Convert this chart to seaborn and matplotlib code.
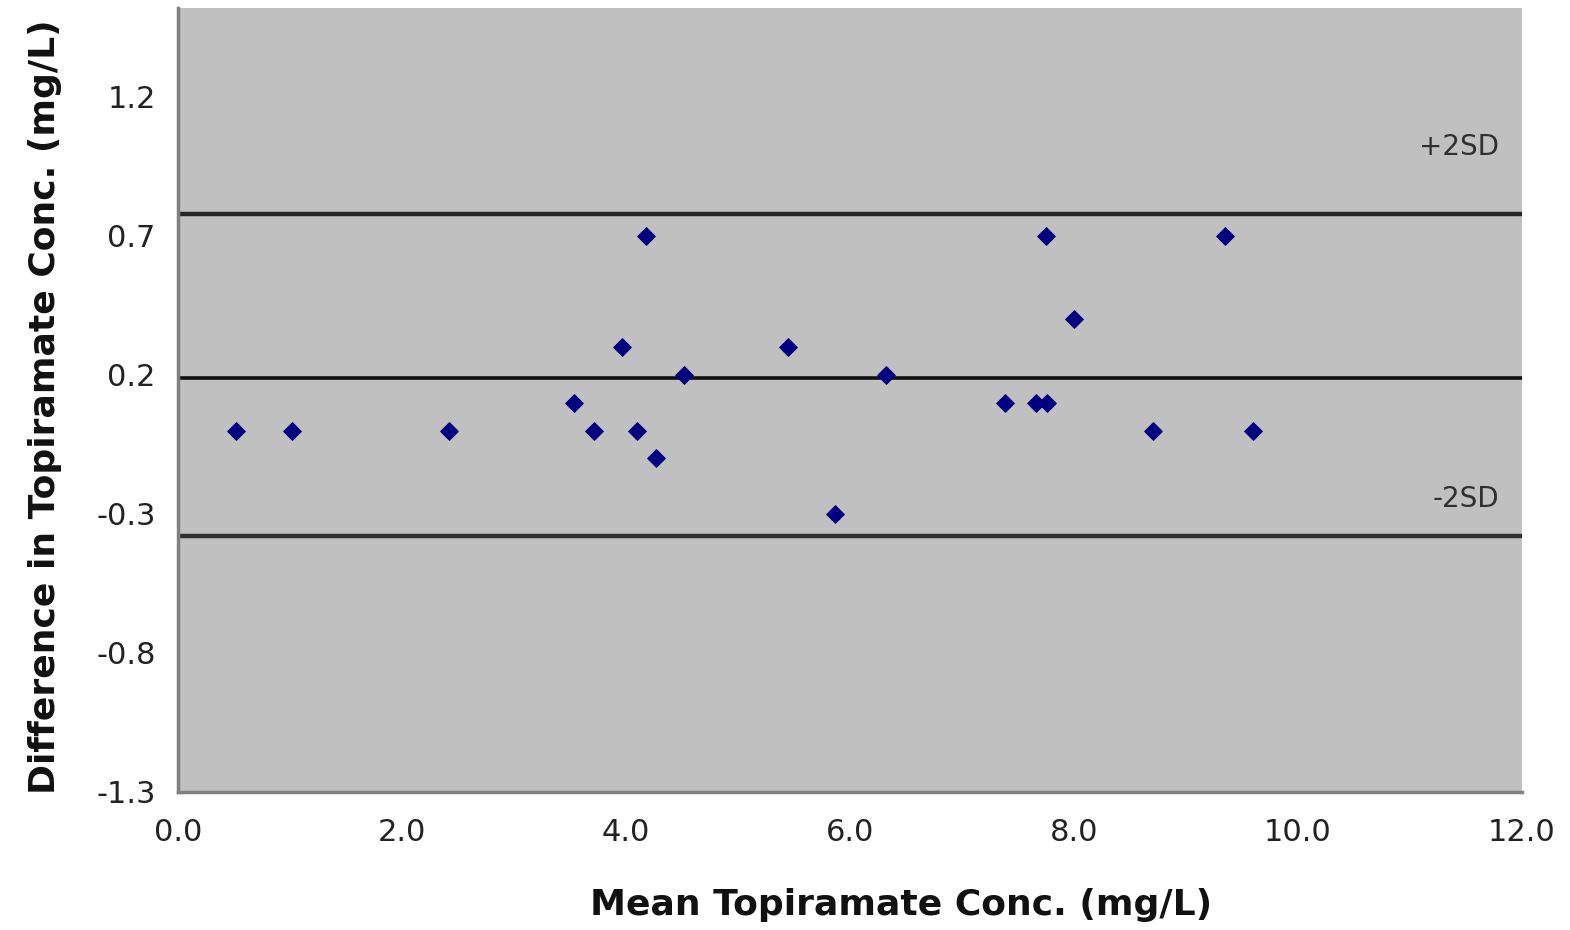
import matplotlib
matplotlib.use("Agg")
import matplotlib.pyplot as plt
import numpy as np
import pandas as pd
import seaborn as sns

# Bland-Altman style data
mean_conc = [0.52, 1.02, 2.42, 3.54, 3.71, 3.96, 4.10, 4.18, 4.27, 4.52,
             5.45, 5.87, 6.32, 7.38, 7.66, 7.76, 7.75, 8.00, 8.71, 9.35, 9.60]
diff_conc = [0.0, 0.0, 0.0, 0.1, 0.0, 0.3, 0.0, 0.7, -0.1, 0.2,
             0.3, -0.3, 0.2, 0.1, 0.1, 0.1, 0.7, 0.4, 0.0, 0.7, 0.0]

mean_line = 0.19
plus_2sd = 0.78
minus_2sd = -0.38

x_ticks = [0, 2, 4, 6, 8, 10, 12]
y_ticks = [-1.3, -0.8, -0.3, 0.2, 0.7, 1.2]

df = pd.DataFrame({"mean": mean_conc, "diff": diff_conc})

sns.set_style("white")
plt.rcParams["font.family"] = ["DejaVu Sans"]

fig = plt.figure(figsize=(15.7, 9.3), dpi=100)
ax = fig.add_axes([0.1134, 0.1484, 0.856, 0.843])
ax.set_facecolor("#c0c0c0")

ax.axhline(plus_2sd, color="#262626", lw=3.2, zorder=1)
ax.axhline(mean_line, color="#101010", lw=2.6, zorder=1)
ax.axhline(minus_2sd, color="#303030", lw=3.2, zorder=1)

sns.scatterplot(data=df, x="mean", y="diff", ax=ax, marker="D", s=80,
                color="#000080", edgecolor="#000080", linewidth=0.8, zorder=3)

ax.text(11.44, 1.02, "+2SD", ha="center", va="center", fontsize=20, color="#303030")
ax.text(11.5, -0.245, "-2SD", ha="center", va="center", fontsize=20, color="#303030")

ax.set_xlim(0, 12)
ax.set_ylim(-1.3, 1.52)
ax.set_xticks(x_ticks)
ax.set_xticklabels([f"{v:.1f}" for v in x_ticks])
ax.set_yticks(y_ticks)
ax.set_yticklabels([f"{v:.1f}" for v in y_ticks])
ax.tick_params(axis="both", labelsize=22, colors="#222222", length=6,
               width=1.5, direction="out")
ax.tick_params(axis="x", pad=13)
ax.tick_params(axis="y", pad=10)
ax.tick_params(axis="both", color="#808080")

for side in ("top", "right"):
    ax.spines[side].set_visible(False)
for side in ("left", "bottom"):
    ax.spines[side].set_color("#808080")
    ax.spines[side].set_linewidth(2.5)

ax.set_xlabel("Mean Topiramate Conc. (mg/L)", fontsize=26, fontweight="bold",
              color="#111111")
ax.set_ylabel("Difference in Topiramate Conc. (mg/L)", fontsize=26,
              fontweight="bold", color="#111111")
ax.xaxis.set_label_coords(0.538, -0.122)
ax.yaxis.set_label_coords(-0.086, 0.491)

fig.savefig("out.png", dpi=100)
